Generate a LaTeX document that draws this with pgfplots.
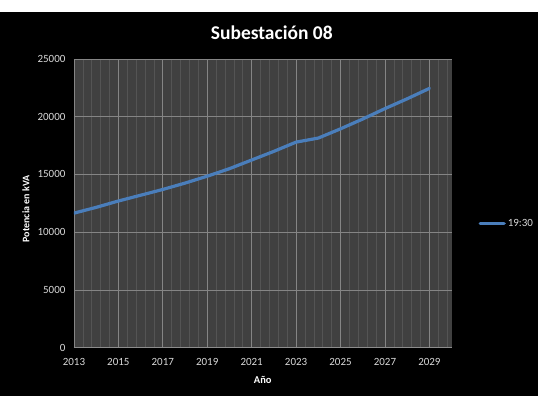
\documentclass[border=0pt]{standalone}
\usepackage{fontspec}
\setmainfont{Carlito}
\usepackage{pgfplots}
\pgfplotsset{compat=1.18}
\definecolor{plotbg}{HTML}{404040}
\definecolor{serieblue}{HTML}{4A7EBB}
\definecolor{ticktxt}{HTML}{D9D9D9}
\begin{document}
\begin{tikzpicture}[x=1pt,y=1pt]
\fill[white] (-74,-48) rectangle (464,348);
\fill[black] (-74,-48) rectangle (464,336);
\begin{axis}[
  at={(0,0)}, anchor=south west,
  scale only axis, width=378pt, height=289pt,
  xmin=2013, xmax=2030, ymin=0, ymax=25000,
  xtick={2013,2015,...,2029},
  minor xtick={2013.4,2013.8,2014.2,2014.6,2015.4,2015.8,2016.2,2016.6,2017.4,2017.8,2018.2,2018.6,2019.4,2019.8,2020.2,2020.6,2021.4,2021.8,2022.2,2022.6,2023.4,2023.8,2024.2,2024.6,2025.4,2025.8,2026.2,2026.6,2027.4,2027.8,2028.2,2028.6,2029.4,2029.8},
  ytick={0,5000,...,25000},
  scaled ticks=false,
  /pgf/number format/1000 sep={},
  /pgf/number format/assume math mode=true,
  axis background/.style={fill=plotbg},
  xmajorgrids, xminorgrids, ymajorgrids,
  major grid style={draw=black!48, line width=0.8pt},
  minor grid style={draw=black!67, line width=0.6pt},
  axis x line*=bottom, axis y line*=left,
  x axis line style={draw=black!45, line width=1pt},
  y axis line style={draw=none},
  major tick length=0pt, minor tick length=0pt,
  tick style={draw=none},
  ticklabel style={font=\fontsize{11}{13}\selectfont, text=ticktxt},
  xticklabel style={yshift=-7pt},
  yticklabel style={xshift=-5pt},
  xlabel={Año}, ylabel={Potencia en kVA},
  xlabel style={at={(axis description cs:0.5,-0.111)}, anchor=center, font=\bfseries\fontsize{10.5}{12}\selectfont, text=white},
  ylabel style={at={(axis description cs:-0.127,0.481)}, anchor=center, font=\bfseries\fontsize{10}{12}\selectfont, text=white},
  legend style={at={(axis description cs:1.063,0.431)}, anchor=west, draw=none, fill=black, text=ticktxt, font=\fontsize{11}{13}\selectfont},
  legend image code/.code={\draw[#1] (0pt,0pt) -- (24pt,0pt);},
]
\addplot[serieblue, line width=3.2pt, line join=round, line cap=round] coordinates {
(2013,11650) (2014,12150) (2015,12700) (2016,13200) (2017,13700)
(2018,14250) (2019,14850) (2020,15500) (2021,16250) (2022,17000)
(2023,17800) (2024,18150) (2025,18950) (2026,19800) (2027,20700)
(2028,21550) (2029,22450)
};
\addlegendentry{19:30}
\end{axis}
\node[text=white, font=\bfseries\fontsize{19.5}{22}\selectfont] at (198,315) {Subestación 08};
\end{tikzpicture}
\end{document}
